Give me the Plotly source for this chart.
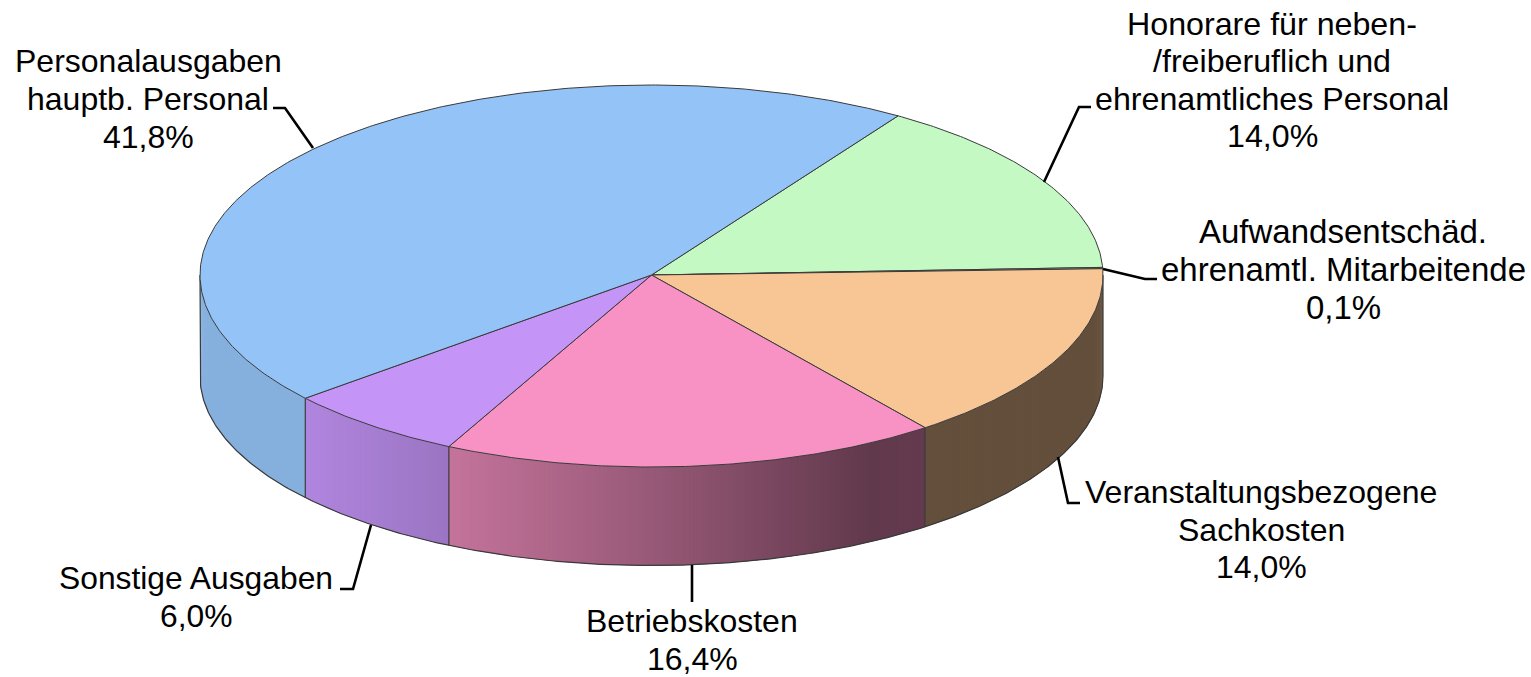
import numpy as np
import plotly.graph_objects as go

# ---- data (order: clockwise from the upper right) ----
categories = ["Honorare", "Aufwandsentschaedigung", "Veranstaltung", "Betriebskosten", "Sonstige", "Personal"]
values = [14.0, 0.1, 14.0, 16.4, 6.0, 41.8]
top_colors = ["#c4f9c4", "#c8d8b0", "#f7c694", "#f992c4", "#c494f7", "#94c4f7"]

label_lines = [
    ["Honorare für neben-", "/freiberuflich und", "ehrenamtliches Personal", "14,0%"],
    ["Aufwandsentschäd.", "ehrenamtl. Mitarbeitende", "0,1%"],
    ["Veranstaltungsbezogene", "Sachkosten", "14,0%"],
    ["Betriebskosten", "16,4%"],
    ["Sonstige Ausgaben", "6,0%"],
    ["Personalausgaben", "hauptb. Personal", "41,8%"],
]

# ---- geometry and style ----
W, H = 1531, 677
CX, CY, RX, DEPTH = 651.5, 275.0, 451.5, 101.0
RY_BACK, RY_FRONT, RY_BOTTOM = 190.0, 192.0, 189.5
START_DEG = 56.9
STEP = 0.5
OUTLINE = "#3a3a3a"
FONT = "Liberation Sans"
LABEL_POS = [  # centre x, y of the first line, line pitch, font size
    (1272, 24, 37.4, 32.2),
    (1343, 231, 38.0, 33.0),
    (1261, 492, 37.5, 32.0),
    (692, 621, 37.5, 32.0),
    (196, 578, 38.0, 31.8),
    (148, 61, 38.0, 32.0),
]
LEADERS = [
    [(1044, 182), (1079, 107), (1091, 107)],
    [(1103, 269), (1145, 279), (1157, 279)],
    [(1058, 457), (1068, 503), (1080, 503)],
    [(692, 565), (692, 602)],
    [(371, 525), (353, 589), (340, 589)],
    [(313, 148), (285, 108), (273, 108)],
]
SHADE_X = [200, 305, 448, 640, 870, 925, 1103]
SHADE_F = [0.90, 0.90, 0.79, 0.62, 0.39, 0.40, 0.40]


def px(deg):
    return CX + RX * np.cos(np.radians(deg))


def py(deg):
    s = np.sin(np.radians(deg))
    return CY - np.where(s >= 0, RY_BACK, RY_FRONT) * s


def py_bottom(deg):
    return CY + DEPTH - RY_BOTTOM * np.sin(np.radians(deg))


def shaded(hex_color, x):
    f = float(np.interp(x, SHADE_X, SHADE_F))
    rgb = [int(hex_color[i:i + 2], 16) for i in (1, 3, 5)]
    return "rgb({},{},{})".format(*[round(c * f) for c in rgb])


sweeps = np.array(values) / np.sum(values) * 360.0
ends = START_DEG - np.cumsum(sweeps)
starts = ends + sweeps

fig = go.Figure()


def poly(xs, ys, fill, line_color, line_width, name):
    fig.add_trace(go.Scatter(
        x=xs, y=ys, mode="lines", fill="toself", fillcolor=fill, name=name,
        line=dict(color=line_color, width=line_width), hoverinfo="skip", showlegend=False,
    ))


# side wall: only the front half (angles from -180 to 0) can be seen
for name, color, a0, a1 in zip(categories, top_colors, starts, ends):
    lo, hi = max(a1, -180.0), min(a0, 0.0)
    if lo >= hi:
        continue
    grid = np.append(np.arange(lo, hi, STEP), hi)
    for g0, g1 in zip(grid[:-1], grid[1:]):
        # every strip runs on under the next one, so no white seam shows
        g2 = min(g1 + STEP, hi)
        fine = np.array([g0, g2])
        xs = np.r_[px(fine), px(fine[::-1])]
        ys = np.r_[py(fine), py_bottom(fine[::-1])]
        c = shaded(color, px((g0 + g1) / 2))
        poly(xs, ys, c, "rgba(0,0,0,0)", 0, name)

# outline of the side wall
for name, a1 in zip(categories, ends):
    if -180 < a1 < 0:
        fig.add_trace(go.Scatter(
            x=[px(a1), px(a1)], y=[py(a1), py_bottom(a1)], mode="lines",
            line=dict(color=OUTLINE, width=1.2), hoverinfo="skip", showlegend=False, name=name,
        ))
front = np.linspace(-180, 0, 361)
fig.add_trace(go.Scatter(
    x=np.r_[px(-180.0), px(front), px(0.0)],
    y=np.r_[py(-180.0), py_bottom(front), py(0.0)],
    mode="lines", line=dict(color=OUTLINE, width=1.2), hoverinfo="skip", showlegend=False,
))

# top face
for name, color, a0, a1 in zip(categories, top_colors, starts, ends):
    arc = np.linspace(a0, a1, max(int((a0 - a1) * 2), 2))
    poly(np.r_[CX, px(arc), CX], np.r_[CY, py(arc), CY], color, OUTLINE, 1.0, name)

# leader lines
for pts in LEADERS:
    path = "M " + " L ".join(f"{x} {y}" for x, y in pts)
    fig.add_shape(type="path", path=path, xref="x", yref="y", line=dict(color="black", width=2.6))

# labels, one annotation per line to hold the reference's line pitch
for lines, (lx, ly, pitch, size) in zip(label_lines, LABEL_POS):
    for i, text in enumerate(lines):
        fig.add_annotation(
            x=lx, y=ly + i * pitch, xref="x", yref="y", text=text, showarrow=False,
            xanchor="center", yanchor="middle", font=dict(family=FONT, size=size, color="black"),
        )

fig.update_layout(
    width=W, height=H, margin=dict(l=0, r=0, t=0, b=0), autosize=False,
    paper_bgcolor="white", plot_bgcolor="white", showlegend=False,
    xaxis=dict(range=[0, W], visible=False, fixedrange=True),
    yaxis=dict(range=[H, 0], visible=False, fixedrange=True),
)
fig.write_html("out.html", config={"displayModeBar": False},
               post_script="document.body.style.margin='0';")
